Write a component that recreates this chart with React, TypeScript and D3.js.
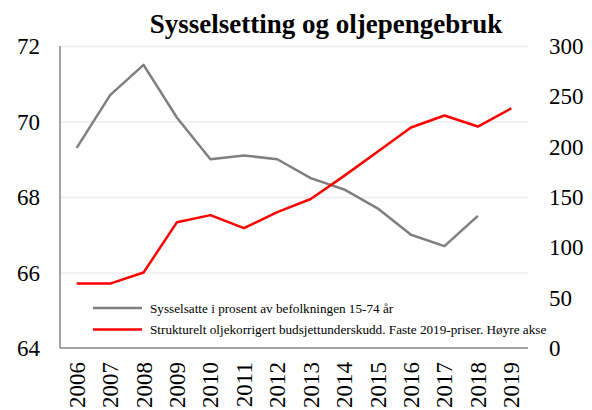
import React, { useEffect, useRef } from 'react';
import * as d3 from 'd3';

// data
const years = ['2006', '2007', '2008', '2009', '2010', '2011', '2012', '2013', '2014', '2015', '2016', '2017', '2018', '2019'];
const sysselsatte = [69.3, 70.7, 71.5, 70.1, 69.0, 69.1, 69.0, 68.5, 68.2, 67.7, 67.0, 66.7, 67.5];
const underskudd = [64, 64, 75, 125, 132, 119, 135, 148, 171, 195, 219, 231, 220, 238];
const leftTicks = [64, 66, 68, 70, 72];
const rightTicks = [0, 50, 100, 150, 200, 250, 300];
const seriesNames = [
  'Sysselsatte i prosent av befolkningen 15-74 år',
  'Strukturelt oljekorrigert budsjettunderskudd. Faste 2019-priser. Høyre akse',
];

const App = () => {
  const ref = useRef<SVGSVGElement>(null);

  const width = 592, height = 410;
  const marginLeft = 60, marginRight = 64, marginTop = 46, marginBottom = 62;

  const GREY = '#7f7f7f';
  const RED = '#ff0000';
  const GRID = '#ececec';
  const FONT = '"Liberation Serif", "Times New Roman", serif';

  useEffect(() => {
    const svg = d3.select(ref.current);
    svg.selectAll('*').remove();

    const x = d3.scaleBand().domain(years).range([marginLeft, width - marginRight]);
    const yL = d3.scaleLinear().domain([64, 72]).range([height - marginBottom, marginTop]);
    const yR = d3.scaleLinear().domain([0, 300]).range([height - marginBottom, marginTop]);
    const cx = (d: string) => (x(d) as number) + x.bandwidth() / 2;

    // grid
    svg.append('g')
      .attr('transform', `translate(${marginLeft},0)`)
      .call(d3.axisLeft(yL).tickValues(leftTicks.slice(1)).tickSize(-(width - marginLeft - marginRight)).tickFormat(() => ''))
      .call(g => {
        g.select('.domain').remove();
        g.selectAll('.tick line').attr('stroke', GRID).attr('stroke-width', 1.5);
      });

    // left labels
    svg.append('g')
      .selectAll('text')
      .data(leftTicks)
      .join('text')
      .attr('x', 40)
      .attr('y', d => yL(d))
      .attr('dy', '0.35em')
      .attr('text-anchor', 'end')
      .attr('font-family', FONT)
      .attr('font-size', 23)
      .attr('fill', '#000')
      .text(d => d);

    // right labels
    svg.append('g')
      .selectAll('text')
      .data(rightTicks)
      .join('text')
      .attr('x', 549)
      .attr('y', d => yR(d))
      .attr('dy', '0.35em')
      .attr('text-anchor', 'start')
      .attr('font-family', FONT)
      .attr('font-size', 23)
      .attr('fill', '#000')
      .text(d => d);

    // axis lines
    svg.append('line')
      .attr('x1', marginLeft).attr('x2', marginLeft)
      .attr('y1', marginTop).attr('y2', height - marginBottom)
      .attr('stroke', '#868686').attr('stroke-width', 1.5);
    svg.append('line')
      .attr('x1', marginLeft).attr('x2', width - marginRight)
      .attr('y1', height - marginBottom).attr('y2', height - marginBottom)
      .attr('stroke', '#868686').attr('stroke-width', 1.5);

    // year labels
    svg.append('g')
      .selectAll('text')
      .data(years)
      .join('text')
      .attr('transform', d => `translate(${cx(d)},${height - marginBottom + 14}) rotate(-90)`)
      .attr('dy', '0.35em')
      .attr('text-anchor', 'end')
      .attr('font-family', FONT)
      .attr('font-size', 23)
      .attr('fill', '#000')
      .text(d => d);

    // lines
    const greyLine = d3.line<number>().x((_, i) => cx(years[i])).y(d => yL(d));
    const redLine = d3.line<number>().x((_, i) => cx(years[i])).y(d => yR(d));

    svg.append('path')
      .datum(sysselsatte)
      .attr('d', greyLine)
      .attr('fill', 'none')
      .attr('stroke', GREY)
      .attr('stroke-width', 2.5)
      .attr('stroke-linejoin', 'round');

    svg.append('path')
      .datum(underskudd)
      .attr('d', redLine)
      .attr('fill', 'none')
      .attr('stroke', RED)
      .attr('stroke-width', 2.5)
      .attr('stroke-linejoin', 'round');

    // legend
    const legend = svg.append('g');
    [GREY, RED].forEach((c, i) => {
      const ly = 308 + i * 21.5;
      legend.append('line')
        .attr('x1', 93).attr('x2', 142)
        .attr('y1', ly).attr('y2', ly)
        .attr('stroke', c).attr('stroke-width', 2.5);
      legend.append('text')
        .attr('x', 150)
        .attr('y', ly)
        .attr('dy', '0.35em')
        .attr('font-family', FONT)
        .attr('font-size', 13.2)
        .attr('fill', '#000')
        .text(seriesNames[i]);
    });

    // title
    svg.append('text')
      .attr('x', 326)
      .attr('y', 33)
      .attr('text-anchor', 'middle')
      .attr('font-family', FONT)
      .attr('font-weight', 'bold')
      .attr('font-size', 27)
      .attr('fill', '#000')
      .text('Sysselsetting og oljepengebruk');
  }, []);

  return (
    <svg
      ref={ref}
      width={width}
      height={height}
      style={{ position: 'absolute', left: 0, top: 0, background: '#fff' }}
    />
  );
};

export default App;
